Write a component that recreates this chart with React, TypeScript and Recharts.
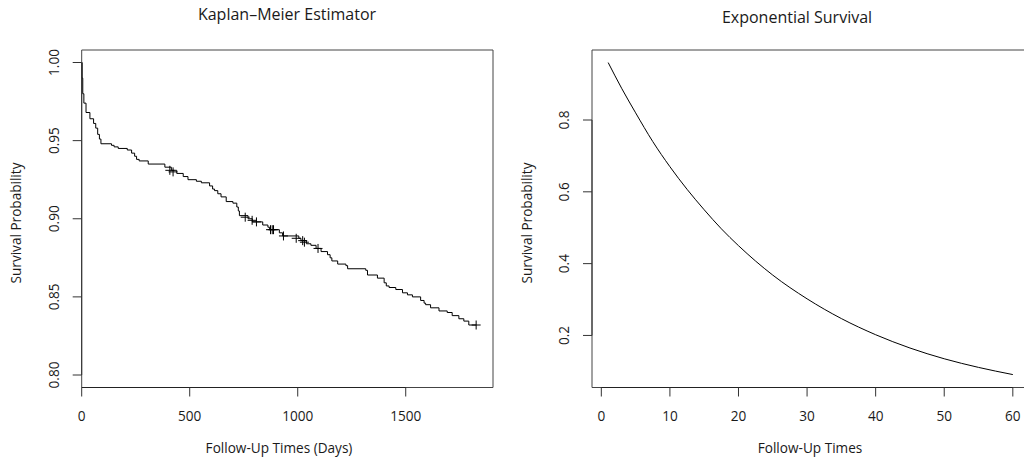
import React from 'react';
import {
  ComposedChart,
  LineChart,
  Line,
  Scatter,
  XAxis,
  YAxis,
  ReferenceArea,
  ReferenceLine,
} from 'recharts';

// ---------- Kaplan–Meier data ----------
const kmTimes = [
  0, 2, 5, 10, 20, 38, 55, 65, 74, 82, 89, 138, 150, 169, 211, 231, 245, 254, 266, 308,
  385, 415, 440, 470, 492, 531, 554, 592, 606, 615, 630, 645, 669, 700, 718, 725, 730,
  770, 790, 838, 862, 870, 915, 930, 1005, 1015, 1040, 1061, 1085, 1108, 1138, 1150,
  1158, 1185, 1223, 1231, 1315, 1323, 1369, 1400, 1410, 1423, 1454, 1485, 1508, 1531,
  1569, 1585, 1592, 1615, 1654, 1692, 1715, 1746, 1769, 1792, 1826,
];
const kmSurv = [
  1.0, 0.99, 0.98, 0.974, 0.968, 0.964, 0.961, 0.958, 0.954, 0.951, 0.948, 0.947, 0.946,
  0.945, 0.944, 0.942, 0.94, 0.938, 0.937, 0.935, 0.933, 0.931, 0.929, 0.927, 0.925,
  0.924, 0.923, 0.921, 0.919, 0.918, 0.916, 0.914, 0.911, 0.91, 0.9075, 0.905, 0.902,
  0.9, 0.898, 0.896, 0.8946, 0.893, 0.891, 0.889, 0.8875, 0.886, 0.884, 0.883, 0.881,
  0.879, 0.877, 0.875, 0.873, 0.871, 0.87, 0.868, 0.867, 0.864, 0.862, 0.859, 0.857,
  0.856, 0.8547, 0.8526, 0.8513, 0.85, 0.8477, 0.846, 0.845, 0.843, 0.841, 0.84, 0.838,
  0.836, 0.8345, 0.832, 0.832,
];
const censorTimes = [408, 423, 757, 789, 809, 874, 882, 888, 934, 993, 1023, 1031, 1094, 1826];
const censorSurv = [0.931, 0.93, 0.901, 0.899, 0.898, 0.893, 0.893, 0.893, 0.889, 0.8875, 0.886, 0.885, 0.881, 0.832];
const kmXTicks = [0, 500, 1000, 1500];
const kmYTicks = [0.8, 0.85, 0.9, 0.95, 1.0];

// ---------- Exponential survival data ----------
const expTimes = [1, 3, 5, 7.5, 10, 12.5, 15, 17.5, 20, 25, 30, 35, 40, 45, 50, 55, 60];
const expSurv = [0.96, 0.887, 0.82, 0.74, 0.67, 0.607, 0.55, 0.497, 0.45, 0.368, 0.302, 0.247, 0.202, 0.165, 0.135, 0.111, 0.091];
const expXTicks = [0, 10, 20, 30, 40, 50, 60];
const expYTicks = [0.2, 0.4, 0.6, 0.8];

const kmData = kmTimes.map((t, i) => ({ t, s: kmSurv[i] }));
const censorData = censorTimes.map((t, i) => ({ t, s: censorSurv[i] }));
const expData = expTimes.map((t, i) => ({ t, s: expSurv[i] }));

const FONT = '"Open Sans", sans-serif';
const TXT = '#1a1a1a';
const TICK_FS = 13.6;

const KM_X: [number, number] = [0, 1904];
const KM_Y: [number, number] = [0.792, 1.008];
const EX_X: [number, number] = [-1.36, 62.36];
const EX_Y: [number, number] = [0.055, 0.995];

const makeRotTick = (digits: number) => (props: any) => {
  const { x, y, payload } = props;
  return (
    <text
      x={x}
      y={y}
      transform={`rotate(-90, ${x}, ${y})`}
      textAnchor="middle"
      fontSize={TICK_FS}
      fontFamily={FONT}
      fill={TXT}
    >
      {Number(payload.value).toFixed(digits)}
    </text>
  );
};

const Cross = (props: any) => {
  const { cx, cy } = props;
  if (cx == null || cy == null) return null;
  return (
    <path
      d={`M${cx - 4.5},${cy}h9M${cx},${cy - 4.5}v9`}
      stroke="#000"
      strokeWidth={1}
      fill="none"
    />
  );
};

const Label = ({ x, y, text, size = 13.6, rotate = false }: any) => (
  <div
    style={{
      position: 'absolute',
      left: x,
      top: y,
      transform: `translate(-50%, -50%)${rotate ? ' rotate(-90deg)' : ''}`,
      fontSize: size,
      fontFamily: FONT,
      color: TXT,
      whiteSpace: 'nowrap',
      lineHeight: 1,
    }}
  >
    {text}
  </div>
);

export default function App() {
  return (
    <div
      style={{
        position: 'fixed',
        left: 0,
        top: 0,
        width: 1024,
        height: 464,
        overflow: 'hidden',
        background: '#fff',
      }}
    >
      <div style={{ position: 'absolute', left: 0, top: 0 }}>
        <ComposedChart
          width={512}
          height={464}
          margin={{ top: 50, right: 19, bottom: 46.5, left: 41.7 }}
        >
          <XAxis
            type="number"
            dataKey="t"
            domain={KM_X}
            ticks={kmXTicks}
            allowDataOverflow
            axisLine={false}
            tickSize={9}
            tickMargin={15}
            height={30}
            tickLine={{ stroke: '#333' }}
            tick={{ fontSize: TICK_FS, fontFamily: FONT, fill: TXT }}
            interval={0}
          />
          <YAxis
            type="number"
            dataKey="s"
            domain={KM_Y}
            ticks={kmYTicks}
            allowDataOverflow
            axisLine={false}
            tickSize={9}
            tickMargin={14}
            width={40}
            tickLine={{ stroke: '#333' }}
            tick={makeRotTick(2)}
            interval={0}
          />
          <ReferenceArea
            x1={KM_X[0]}
            x2={KM_X[1]}
            y1={KM_Y[0]}
            y2={KM_Y[1]}
            fill="none"
            stroke="#444"
            strokeWidth={1}
            ifOverflow="visible"
          />
          <ReferenceLine
            segment={[{ x: 0, y: KM_Y[0] }, { x: 1500, y: KM_Y[0] }]}
            stroke="#222"
            strokeWidth={1.2}
            ifOverflow="visible"
          />
          <ReferenceLine
            segment={[{ x: KM_X[0], y: 0.8 }, { x: KM_X[0], y: 1.0 }]}
            stroke="#333"
            strokeWidth={1}
            ifOverflow="visible"
          />
          <Line
            data={kmData}
            dataKey="s"
            type="stepAfter"
            stroke="#000"
            strokeWidth={1}
            dot={false}
            activeDot={false}
            isAnimationActive={false}
          />
          <Scatter
            data={censorData}
            dataKey="s"
            shape={<Cross />}
            isAnimationActive={false}
          />
        </ComposedChart>
      </div>

      <div style={{ position: 'absolute', left: 512, top: 0 }}>
        <LineChart
          width={530}
          height={464}
          data={expData}
          margin={{ top: 50, right: 13, bottom: 46.5, left: 40 }}
        >
          <XAxis
            type="number"
            dataKey="t"
            domain={EX_X}
            ticks={expXTicks}
            allowDataOverflow
            axisLine={false}
            tickSize={9}
            tickMargin={15}
            height={30}
            tickLine={{ stroke: '#333' }}
            tick={{ fontSize: TICK_FS, fontFamily: FONT, fill: TXT }}
            interval={0}
          />
          <YAxis
            type="number"
            domain={EX_Y}
            ticks={expYTicks}
            allowDataOverflow
            axisLine={false}
            tickSize={9}
            tickMargin={14}
            width={40}
            tickLine={{ stroke: '#333' }}
            tick={makeRotTick(1)}
            interval={0}
          />
          <ReferenceArea
            x1={EX_X[0]}
            x2={EX_X[1]}
            y1={EX_Y[0]}
            y2={EX_Y[1]}
            fill="none"
            stroke="#444"
            strokeWidth={1}
            ifOverflow="visible"
          />
          <ReferenceLine
            segment={[{ x: 0, y: EX_Y[0] }, { x: 60, y: EX_Y[0] }]}
            stroke="#222"
            strokeWidth={1.2}
            ifOverflow="visible"
          />
          <ReferenceLine
            segment={[{ x: EX_X[0], y: 0.2 }, { x: EX_X[0], y: 0.8 }]}
            stroke="#333"
            strokeWidth={1}
            ifOverflow="visible"
          />
          <Line
            dataKey="s"
            type="monotone"
            stroke="#000"
            strokeWidth={1}
            dot={false}
            activeDot={false}
            isAnimationActive={false}
          />
        </LineChart>
      </div>

      <Label x={287} y={14} text="Kaplan–Meier Estimator" size={16} />
      <Label x={797} y={16.5} text="Exponential Survival" size={16} />
      <Label x={279} y={448} text="Follow-Up Times (Days)" />
      <Label x={810} y={448} text="Follow-Up Times" />
      <Label x={15.5} y={223} text="Survival Probability" rotate />
      <Label x={527} y={223} text="Survival Probability" rotate />
    </div>
  );
}
